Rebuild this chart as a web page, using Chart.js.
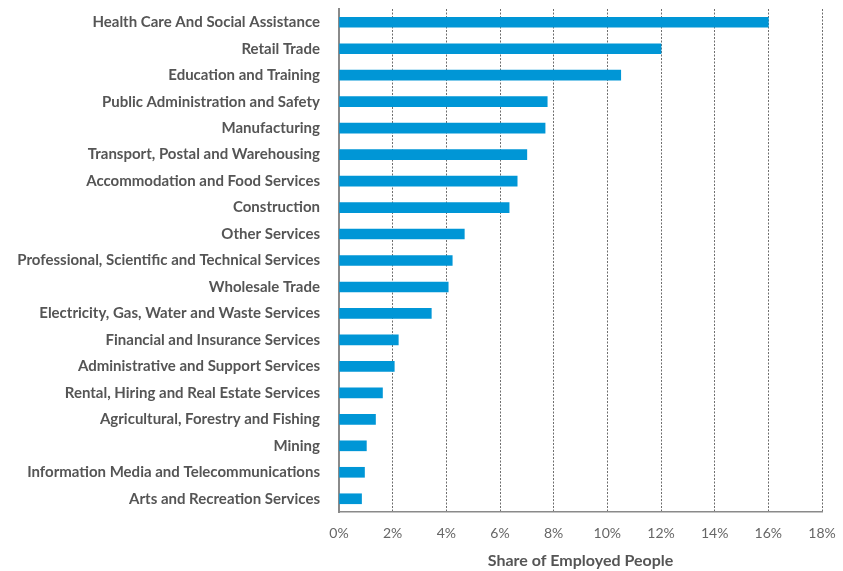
<!DOCTYPE html>
<html lang="en">
<head>
    <meta charset="UTF-8">
    <title>Share of Employed People</title>
    <style>
        html, body { margin: 0; padding: 0; background: #fff; }
        #wrap { width: 843px; height: 571px; }
    </style>
</head>
<body>
    <div id="wrap"><canvas id="chartId" aria-label="chart"></canvas></div>
    <script src="https://cdn.jsdelivr.net/npm/chart.js@4/dist/chart.umd.min.js"></script>
    <script>
        const industries = [
            'Health Care And Social Assistance',
            'Retail Trade',
            'Education and Training',
            'Public Administration and Safety',
            'Manufacturing',
            'Transport, Postal and Warehousing',
            'Accommodation and Food Services',
            'Construction',
            'Other Services',
            'Professional, Scientific and Technical Services',
            'Wholesale Trade',
            'Electricity, Gas, Water and Waste Services',
            'Financial and Insurance Services',
            'Administrative and Support Services',
            'Rental, Hiring and Real Estate Services',
            'Agricultural, Forestry and Fishing',
            'Mining',
            'Information Media and Telecommunications',
            'Arts and Recreation Services'
        ];
        const shares = [16.0, 12.0, 10.5, 7.76, 7.68, 7.0, 6.64, 6.34, 4.67, 4.22, 4.07, 3.44, 2.21, 2.06, 1.62, 1.36, 1.02, 0.95, 0.84];
        const xTicks = [0, 2, 4, 6, 8, 10, 12, 14, 16, 18];

        const ctx = document.getElementById('chartId').getContext('2d');

        const myChart = new Chart(ctx, {
            type: 'bar',
            data: {
                labels: industries,
                datasets: [{
                    label: 'Share of Employed People',
                    data: shares,
                    backgroundColor: '#0096d6',
                    barThickness: 10
                }]
            },
            options: {
                indexAxis: 'y',
                responsive: true,
                maintainAspectRatio: false,
                animation: false,
                layout: { padding: { top: 9, right: 21, bottom: 0, left: 0 } },
                plugins: {
                    legend: { display: false },
                    tooltip: { enabled: false }
                },
                scales: {
                    x: {
                        min: xTicks[0],
                        max: xTicks[xTicks.length - 1],
                        afterBuildTicks: (s) => { s.ticks = xTicks.map(v => ({ value: v })); },
                        afterFit: (s) => { s.height = 59; s.paddingLeft = 0; s.paddingRight = 0; },
                        grid: { color: '#6e6e6e', lineWidth: 1, drawTicks: false },
                        border: { display: true, color: '#8a8a8a', width: 1.5, dash: [2, 1.5] },
                        ticks: {
                            padding: 13,
                            color: '#666',
                            font: { family: 'Lato', size: 14 },
                            callback: (v) => v + '%'
                        },
                        title: {
                            display: true,
                            text: 'Share of Employed People',
                            color: '#555',
                            padding: { top: 0, bottom: 1 },
                            font: { family: 'Lato', size: 16, weight: 'bold' }
                        }
                    },
                    y: {
                        afterFit: (s) => { s.width = 339; s.paddingTop = 0; s.paddingBottom = 0; },
                        grid: { display: false, drawTicks: false },
                        border: { display: true, color: '#8a8a8a', width: 2 },
                        ticks: {
                            padding: 19,
                            color: '#555',
                            font: { family: 'Lato', size: 15, weight: 'bold' }
                        }
                    }
                }
            }
        });
    </script>
</body>
</html>
